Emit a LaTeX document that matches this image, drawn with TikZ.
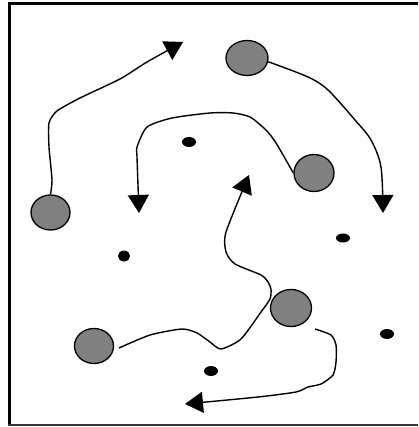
\documentclass[tikz,border=0pt]{standalone}
\usetikzlibrary{shapes.geometric,arrows.meta}
\begin{document}
\begin{tikzpicture}[x=1pt,y=-1pt,
  bigdot/.style={ellipse,draw=black,line width=1.3pt,fill=black!50,inner sep=0pt},
  smalldot/.style={ellipse,fill=black,inner sep=0pt,minimum width=14pt,minimum height=10pt},
  track/.style={line width=1.4pt,-{Triangle[length=18pt,width=21pt]}},
  frameline/.style={line width=3.2pt,black}]
\useasboundingbox (0,0) rectangle (418,427);
\fill[white] (0,0) rectangle (418,427);
% frame
\draw[frameline] (9.5,3.4) -- (418,3.4);
\draw[frameline] (9.5,1.8) -- (9.5,426);
\draw[line width=1.8pt,black!80] (8,425.2) -- (418,425.2);
% large particles
\node[bigdot,minimum width=42pt,minimum height=35pt] (e1) at (247,58) {};
\node[bigdot,minimum width=40pt,minimum height=37pt] (e2) at (314,173) {};
\node[bigdot,minimum width=39pt,minimum height=35pt] (e3) at (50.5,212.5) {};
\node[bigdot,minimum width=39pt,minimum height=35pt] (e4) at (94,346) {};
\node[bigdot,minimum width=41pt,minimum height=37pt] (e5) at (291,308) {};
% small particles
\node[smalldot] (d1) at (189,142) {};
\node[smalldot,minimum width=12pt,minimum height=11pt] (d2) at (124,256) {};
\node[smalldot,minimum height=9pt] (d3) at (343,238) {};
\node[smalldot] (d4) at (387,334) {};
\node[smalldot] (d5) at (211,371) {};
% free ends
\coordinate (tA) at (183,42);
\coordinate (tB) at (383,213);
\coordinate (tC) at (139,213);
\coordinate (tD) at (249,175);
\coordinate (tE) at (185,404);
\coordinate (s4) at (119,348);
\coordinate (s5) at (315,329);
% trajectories
\draw[track] plot[smooth,tension=0.4] coordinates {(e3.north) (52,180) (49,147) (49,123) (57,111) (80,98) (120,79) (147,62) (tA)};
\draw[track] plot[smooth,tension=0.5] coordinates {(e1.-10) (308,77) (328,90) (355,120) (371,140) (381,167) (tB)};
\draw[track] plot[smooth,tension=0.4] coordinates {(e2.west) (276,143) (266,130) (250,117) (233,113) (210,113) (172,118) (147,127) (137,147) (137,157) (tC)};
\draw[track] plot[smooth,tension=0.4] coordinates {(s4) (150,335) (182,329) (197,333) (210,342) (221,349) (241,339) (261,312) (270,299) (271,289) (268,282) (261,275) (235,264) (226,252) (226,232) (tD)};
\draw[track] plot[smooth,tension=0.4] coordinates {(s5) (331,335) (336,345) (336,362) (333,375) (321,384) (308,387) (296,392) (258,397) (tE)};
\end{tikzpicture}
\end{document}
